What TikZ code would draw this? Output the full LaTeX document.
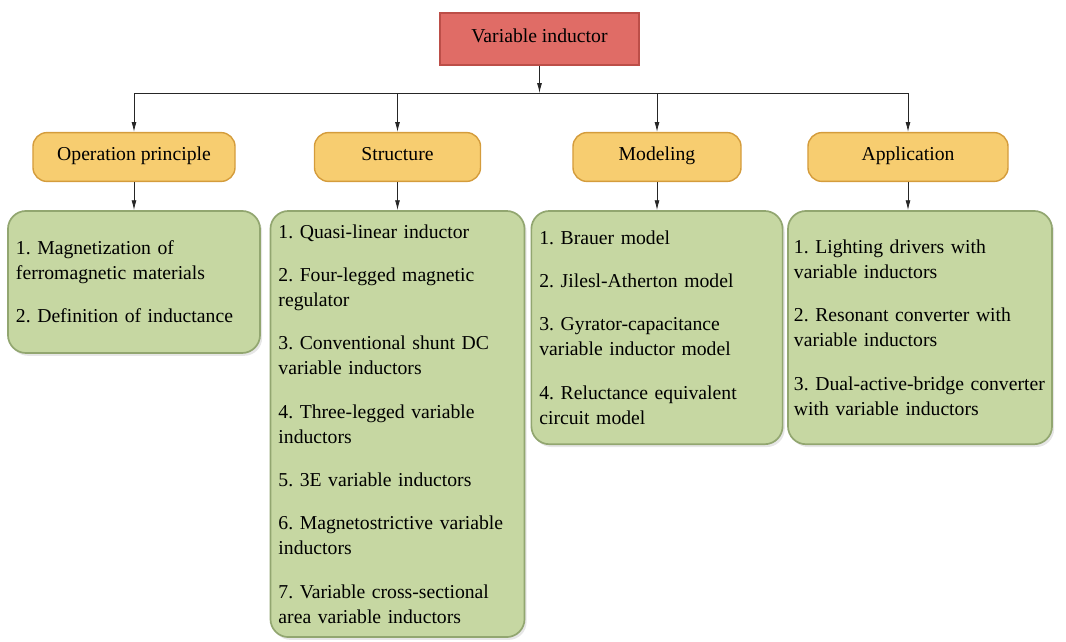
\documentclass[tikz,border=0pt]{standalone}
\usepackage{fontspec}
\setmainfont{Liberation Serif}
\newfontfamily\diagfont{Liberation Serif}
\usetikzlibrary{arrows.meta, positioning, shadows}
\definecolor{RootRed}{RGB}{224,108,102}
\definecolor{RootEdge}{RGB}{188,78,72}
\definecolor{TopicYellow}{RGB}{247,205,112}
\definecolor{TopicEdge}{RGB}{212,156,60}
\definecolor{ListGreen}{RGB}{198,215,162}
\definecolor{ListEdge}{RGB}{146,166,112}
\frenchspacing

\begin{document}
\begin{tikzpicture}[
          x=0.025cm, y=-0.025cm,
          font=\diagfont\fontsize{14pt}{17.8pt}\selectfont,
          mainbox/.style={rectangle, draw=RootEdge, line width=1pt, fill=RootRed, minimum width=4.97cm, minimum height=1.3cm, text height=1.6ex, text depth=0.5ex},
          topicbox/.style={rectangle, rounded corners=0.35cm, draw=TopicEdge, line width=1pt, fill=TopicYellow, minimum height=1.22cm, text height=1.6ex, text depth=0.5ex},
          listbox/.style={rectangle, rounded corners=0.45cm, draw=ListEdge, line width=1.2pt, fill=ListGreen, align=left, inner xsep=0.2cm, drop shadow={shadow xshift=1.5pt, shadow yshift=-2pt, opacity=0.2}},
          arrow/.style={-{Latex[length=7pt, width=3.5pt]}, semithick, black!85}
        ]
          \useasboundingbox (0,0) rectangle (1066,641);
          \node (top) [mainbox] at (539.5,39) {Variable inductor};
          \coordinate (bus) at (539.5,93);
          \node (oper) [topicbox, minimum width=5.05cm] at (134,157) {Operation principle};
          \node (struc) [topicbox, minimum width=4.15cm] at (397.5,157) {Structure};
          \node (model) [topicbox, minimum width=4.2cm] at (657,157) {Modeling};
          \node (appl) [topicbox, minimum width=5cm] at (908,157) {Application};
          \node (oper-list) [listbox, text width=5.9cm, minimum height=3.55cm, below=0.7cm of oper]
            {1. Magnetization of\\ ferromagnetic materials\\[13pt] 2. Definition of inductance};
          \node (struc-list) [listbox, text width=5.95cm, minimum height=10.65cm, below=0.7cm of struc]
            {1. Quasi-linear inductor\\[13pt] 2. Four-legged magnetic\\ regulator\\[13pt]
             3. Conventional shunt DC\\ variable inductors\\[13pt] 4. Three-legged variable\\ inductors\\[13pt]
             5. 3E variable inductors\\[13pt] 6. Magnetostrictive variable\\ inductors\\[13pt]
             7. Variable cross-sectional\\ area variable inductors};
          \node (model-list) [listbox, text width=5.88cm, minimum height=5.83cm, below=0.7cm of model]
            {1. Brauer model\\[13pt] 2. Jilesl-Atherton model\\[13pt] 3. Gyrator-capacitance\\ variable inductor model\\[13pt]
             4. Reluctance equivalent\\ circuit model};
          \node (appl-list) [listbox, text width=6.3cm, inner xsep=0.15cm, minimum height=5.83cm, below=0.7cm of appl, xshift=0.3cm]
            {1. Lighting drivers with\\ variable inductors\\[13pt] 2. Resonant converter with\\ variable inductors\\[13pt]
             3. Dual-active-bridge converter\\ with variable inductors};
          % connectors
          \draw[arrow] (top) -- (bus);
          \draw[semithick, black!85] (oper |- bus) -- (appl |- bus);
          \foreach \t in {oper, struc, model, appl} {
            \draw[arrow] (\t |- bus) -- (\t);
            \draw[arrow] (\t.south) -- (\t.south |- \t-list.north);
          }
        \end{tikzpicture}
\end{document}
